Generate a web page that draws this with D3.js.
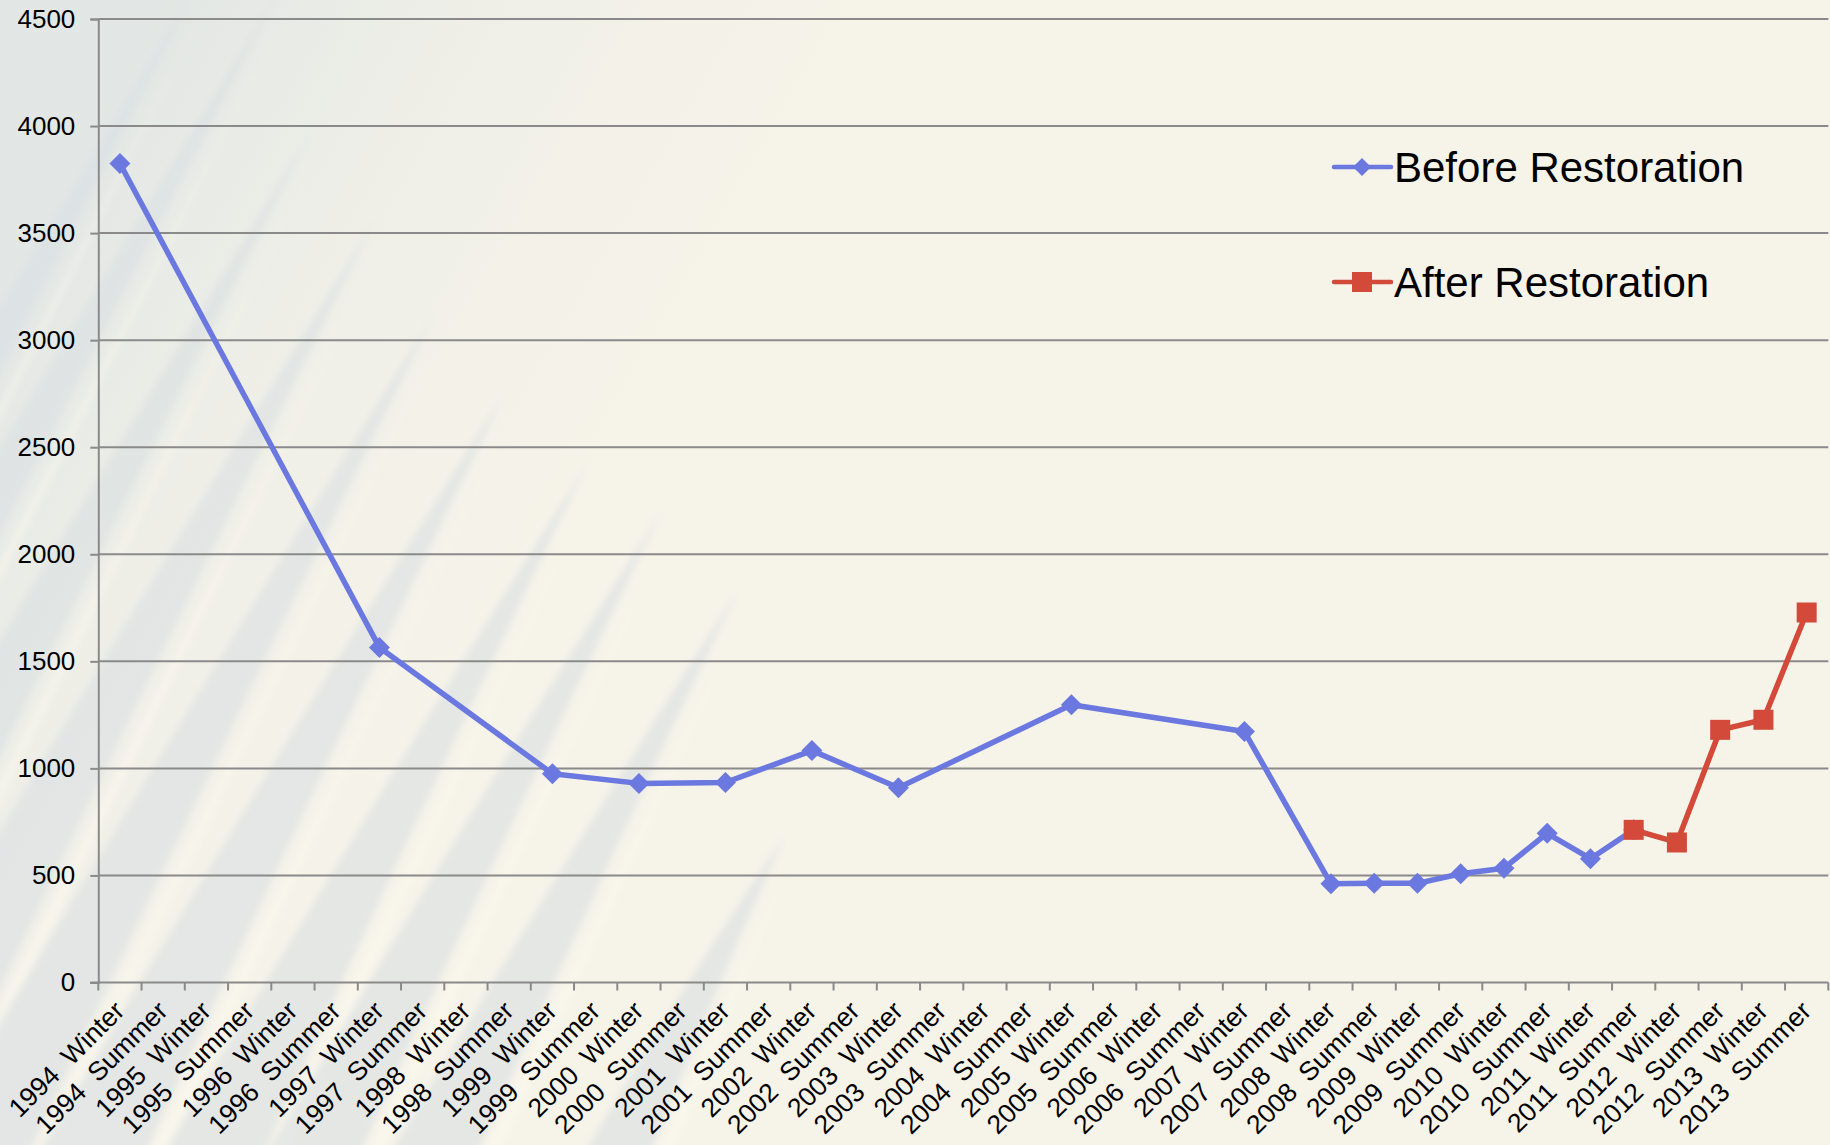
<!DOCTYPE html>
<html>
<head>
<meta charset="utf-8">
<script src="https://cdn.jsdelivr.net/npm/d3@7"></script>
<style>
  html, body { margin: 0; padding: 0; background: #f6f3e9; }
  svg { display: block; }
  text { font-family: "Liberation Sans", Arial, Helvetica, sans-serif; fill: #000; }
</style>
</head>
<body>
<svg id="chart" width="1830" height="1145"></svg>
<script>
// Survey seasons on the category axis
const categories = [
  "1994 Winter", "1994 Summer", "1995 Winter", "1995 Summer",
  "1996 Winter", "1996 Summer", "1997 Winter", "1997 Summer",
  "1998 Winter", "1998 Summer", "1999 Winter", "1999 Summer",
  "2000 Winter", "2000 Summer", "2001 Winter", "2001 Summer",
  "2002 Winter", "2002 Summer", "2003 Winter", "2003 Summer",
  "2004 Winter", "2004 Summer", "2005 Winter", "2005 Summer",
  "2006 Winter", "2006 Summer", "2007 Winter", "2007 Summer",
  "2008 Winter", "2008 Summer", "2009 Winter", "2009 Summer",
  "2010 Winter", "2010 Summer", "2011 Winter", "2011 Summer",
  "2012 Winter", "2012 Summer", "2013 Winter", "2013 Summer"
];

// null = no survey that season (the line is carried across the gap)
const beforeRestoration = [
  3825, null, null, null, null, null, 1565, null, null, null,
  975, null, 930, null, 934, null, 1083, null, 910, null,
  null, null, 1297, null, null, null, 1172, null, 461, 463,
  463, 508, 534, 697, 578, 713, null, null, null, null
];
const afterRestoration = [
  null, null, null, null, null, null, null, null, null, null,
  null, null, null, null, null, null, null, null, null, null,
  null, null, null, null, null, null, null, null, null, null,
  null, null, null, null, null, 713, 654, 1180, 1227, 1728
];

const yTicks = [0, 500, 1000, 1500, 2000, 2500, 3000, 3500, 4000, 4500];

const seriesNames = ["Before Restoration", "After Restoration"];
const BLUE = "#6b78e0";
const RED = "#d44a3a";

const W = 1830, H = 1145;
const plot = { left: 98.3, right: 1828.3, top: 19, bottom: 982.5 };

const svg = d3.select("#chart");
const defs = svg.append("defs");

// ---- paper background with pale reed-like streaks on the left ----
defs.append("filter").attr("id", "soft")
  .attr("x", "-20%").attr("y", "-20%").attr("width", "140%").attr("height", "140%")
  .append("feGaussianBlur").attr("stdDeviation", 3.5);

const wash = defs.append("linearGradient").attr("id", "wash")
  .attr("gradientUnits", "userSpaceOnUse")
  .attr("x1", 0).attr("y1", 300).attr("x2", 520).attr("y2", 600);
wash.append("stop").attr("offset", 0).attr("stop-color", "#dfe5e4").attr("stop-opacity", 0.85);
wash.append("stop").attr("offset", 0.5).attr("stop-color", "#e4e9e5").attr("stop-opacity", 0.35);
wash.append("stop").attr("offset", 1).attr("stop-color", "#e8ebe4").attr("stop-opacity", 0);

svg.append("rect").attr("width", W).attr("height", H).attr("fill", "#f6f3e9");
svg.append("rect").attr("width", W).attr("height", H).attr("fill", "url(#wash)");

// blade silhouettes: tip point and half-width at the bottom edge
const blades = [
  [200, -20, 95], [285, -20, 85], [312, 130, 90], [376, 218, 90],
  [436, 310, 85], [505, 392, 85], [588, 462, 80], [662, 510, 75],
  [738, 590, 70], [785, 836, 55]
];
const bladeG = svg.append("g").attr("filter", "url(#soft)");
blades.forEach(([tx, ty, w]) => {
  const bx = tx - 0.58 * (H + 40 - ty);
  bladeG.append("path")
    .attr("d", `M${tx},${ty} Q${(tx + bx) / 2 + w * 0.55},${(ty + H) / 2} ${bx + w},${H + 40} L${bx - w * 0.3},${H + 40} Q${(tx + bx) / 2 - w * 0.1},${(ty + H) / 2} ${tx},${ty} Z`)
    .attr("fill", "#d9e0e3").attr("opacity", 0.6);
  // cream highlight along the right edge of each blade
  bladeG.append("path")
    .attr("d", `M${tx + 8},${ty + 20} L${bx + w + 22},${H + 40} L${bx + w + 6},${H + 40} Z`)
    .attr("fill", "#fbf8ee").attr("opacity", 0.6);
});

// ---- scales ----
const x = d3.scaleBand().domain(categories).range([plot.left, plot.right]).padding(0);
const y = d3.scaleLinear().domain([0, 4500]).range([plot.bottom, plot.top]);
const cx = c => x(c) + x.bandwidth() / 2;

// ---- gridlines ----
svg.append("g").selectAll("line").data(yTicks.filter(v => v > 0)).join("line")
  .attr("x1", plot.left).attr("x2", plot.right)
  .attr("y1", d => y(d)).attr("y2", d => y(d))
  .attr("stroke", "#8a8a8a").attr("stroke-width", 2);

// ---- y axis ----
const yAxis = svg.append("g").attr("transform", `translate(${plot.left},0)`)
  .call(d3.axisLeft(y).tickValues(yTicks).tickSize(8).tickPadding(15).tickFormat(d3.format("d")));
yAxis.select(".domain").attr("stroke", "#8a8a8a").attr("stroke-width", 2);
yAxis.selectAll(".tick line").attr("stroke", "#8a8a8a").attr("stroke-width", 2);
yAxis.selectAll(".tick text").style("font-size", "26px")
  .style("font-family", '"Liberation Sans", Arial, sans-serif').attr("fill", "#000");

// ---- x axis: tick marks on band edges, labels at band centres ----
const xAxisG = svg.append("g");
xAxisG.append("line")
  .attr("x1", plot.left - 8).attr("x2", plot.right)
  .attr("y1", plot.bottom).attr("y2", plot.bottom)
  .attr("stroke", "#8a8a8a").attr("stroke-width", 2);
const edges = categories.map(c => x(c)).concat([plot.right]);
xAxisG.selectAll("line.tk").data(edges).join("line").attr("class", "tk")
  .attr("x1", d => d).attr("x2", d => d)
  .attr("y1", plot.bottom).attr("y2", plot.bottom + 8)
  .attr("stroke", "#8a8a8a").attr("stroke-width", 2);
// year and season are set apart by a wide gap
xAxisG.selectAll("text").data(categories).join("text")
  .attr("transform", d => `translate(${cx(d) + 6},${plot.bottom + 30}) rotate(-45)`)
  .attr("text-anchor", "end")
  .style("font-size", "26.5px")
  .text(d => d.replace(" ", "\u00a0\u00a0"));

// ---- series ----
const line = d3.line().x(d => cx(d.c)).y(d => y(d.v));
const toPts = arr => categories.map((c, i) => ({ c, v: arr[i] })).filter(d => d.v !== null);
const beforePts = toPts(beforeRestoration);
const afterPts = toPts(afterRestoration);

svg.append("path").datum(beforePts).attr("d", line)
  .attr("fill", "none").attr("stroke", BLUE).attr("stroke-width", 5.5)
  .attr("stroke-linejoin", "round");
const diamond = s => `M0,${-s} L${s},0 L0,${s} L${-s},0 Z`;
svg.append("g").selectAll("path").data(beforePts).join("path")
  .attr("transform", d => `translate(${cx(d.c)},${y(d.v)})`)
  .attr("d", diamond(10.5)).attr("fill", BLUE);

svg.append("path").datum(afterPts).attr("d", line)
  .attr("fill", "none").attr("stroke", RED).attr("stroke-width", 5.5)
  .attr("stroke-linejoin", "round");
svg.append("g").selectAll("rect").data(afterPts).join("rect")
  .attr("x", d => cx(d.c) - 10).attr("y", d => y(d.v) - 10)
  .attr("width", 20).attr("height", 20).attr("fill", RED);

// ---- legend ----
const legend = svg.append("g");
const legendRows = [
  { name: seriesNames[0], color: BLUE, ly: 167, marker: "diamond" },
  { name: seriesNames[1], color: RED, ly: 282, marker: "square" }
];
legendRows.forEach(r => {
  legend.append("line").attr("x1", 1334).attr("x2", 1391).attr("y1", r.ly).attr("y2", r.ly)
    .attr("stroke", r.color).attr("stroke-width", 4.5).attr("stroke-linecap", "round");
  if (r.marker === "diamond") {
    legend.append("path").attr("transform", `translate(1362,${r.ly})`).attr("d", diamond(9)).attr("fill", r.color);
  } else {
    legend.append("rect").attr("x", 1352).attr("y", r.ly - 10).attr("width", 20).attr("height", 20).attr("fill", r.color);
  }
  legend.append("text").attr("x", 1394).attr("y", r.ly + 14.5)
    .style("font-size", "42px").text(r.name);
});
</script>
</body>
</html>
